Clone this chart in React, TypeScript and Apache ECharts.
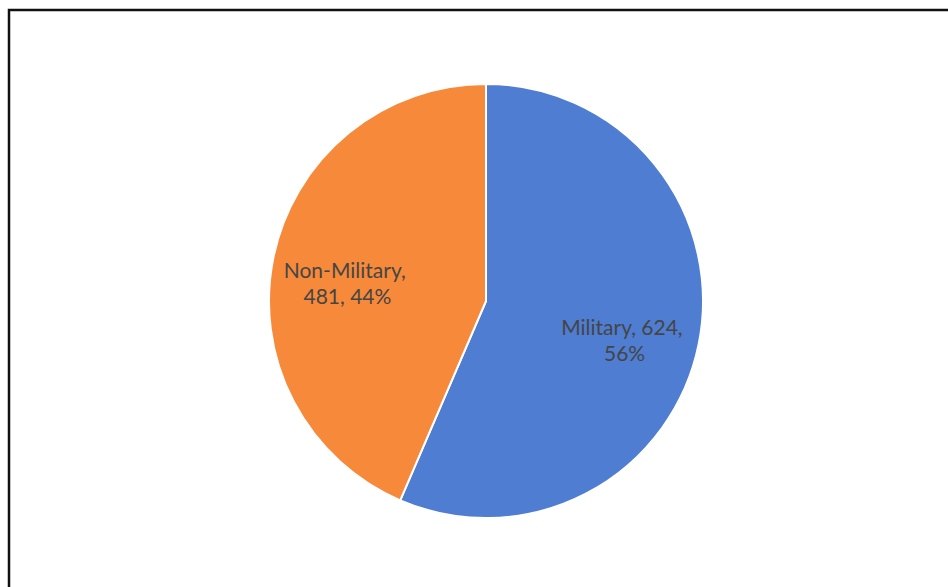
import React, { useEffect, useRef } from "react";
import * as echarts from "echarts";

const categories = ["Military", "Non-Military"];
const values = [624, 481];
const colors = ["#4e7dd2", "#f7893a"];

export default function App() {
  const ref = useRef<HTMLDivElement>(null);
  useEffect(() => {
    if (!ref.current) return;
    const chart = echarts.init(ref.current, null, { renderer: "svg" });
    const data = categories.map((name, i) => ({
      name,
      value: values[i],
      itemStyle: { color: colors[i] },
    }));
    chart.setOption({
      animation: false,
      backgroundColor: "#ffffff",
      graphic: [
        {
          type: "rect",
          shape: { x: 9, y: 10, width: 1000, height: 1000 },
          style: { fill: "none", stroke: "#111111", lineWidth: 2.5 },
          silent: true,
        },
      ],
      series: [
        {
          type: "pie",
          center: [486, 301],
          radius: [0, 217],
          startAngle: 90,
          clockwise: true,
          label: { show: false },
          labelLine: { show: false },
          itemStyle: { borderColor: "#ffffff", borderWidth: 2 },
          emphasis: { disabled: true },
          data,
        },
        {
          type: "pie",
          center: [486, 301],
          radius: [60, 217],
          startAngle: 90,
          clockwise: true,
          silent: true,
          percentPrecision: 0,
          itemStyle: { color: "rgba(0,0,0,0)", borderWidth: 0 },
          labelLine: { show: false },
          labelLayout: { dy: 10 },
          label: {
            show: true,
            position: "inside",
            formatter: "{b}, {c}, {d}%",
            width: 150,
            overflow: "break",
            align: "center",
            color: "#454545",
            fontFamily: "Lato",
            fontSize: 21,
            lineHeight: 26,
          },
          emphasis: { disabled: true },
          data: categories.map((name, i) => ({ name, value: values[i] })),
        },
      ],
    });
    return () => chart.dispose();
  }, []);
  return (
    <div
      ref={ref}
      style={{ position: "fixed", left: 0, top: 0, width: 948, height: 587 }}
    />
  );
}
